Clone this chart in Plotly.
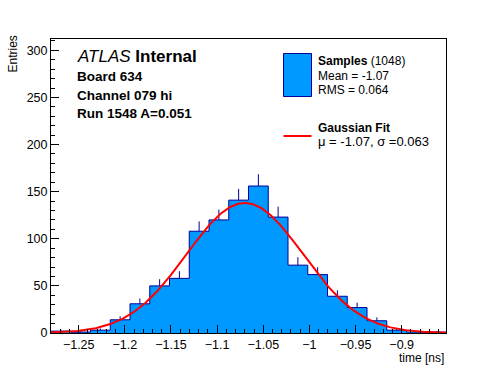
import numpy as np
import plotly.graph_objects as go

# ---- data ----
bin_lo = -1.28
bin_width = 0.0214
counts = [2, 1, 3, 14, 31, 50, 58, 108, 120, 141, 156, 123, 72, 62, 39, 27, 13, 3, 1, 1]
x_range = [-1.28, -0.852]
y_range = [0, 312]
fit_const = 138.0
fit_mu = -1.07
fit_sigma = 0.063

n = len(counts)
edges = [bin_lo + i * bin_width for i in range(n + 1)]
centers = [bin_lo + (i + 0.5) * bin_width for i in range(n)]
errs = [float(np.sqrt(c)) for c in counts]

FILL = "#0099ff"
EDGE = "#000099"
FONT = "Liberation Sans, Arial, sans-serif"

fig = go.Figure()

# histogram fill + outline (step)
fig.add_trace(go.Scatter(
    x=edges, y=counts + [counts[-1]], mode="lines", line_shape="hv",
    line=dict(color=EDGE, width=1), fill="tozeroy", fillcolor=FILL,
    hoverinfo="skip", showlegend=False))

# upper error bars
fig.add_trace(go.Scatter(
    x=centers, y=counts, mode="markers",
    marker=dict(size=1, color="rgba(0,0,0,0)"),
    error_y=dict(type="data", symmetric=False, array=errs,
                 arrayminus=[0] * n, width=0, thickness=1, color=EDGE),
    hoverinfo="skip", showlegend=False))

# gaussian fit
xf = np.linspace(x_range[0], x_range[1], 400)
yf = fit_const * np.exp(-0.5 * ((xf - fit_mu) / fit_sigma) ** 2)
fig.add_trace(go.Scatter(x=xf, y=yf, mode="lines",
                         line=dict(color="#ff0000", width=2),
                         hoverinfo="skip", showlegend=False))

L, R, T, B = 51, 50, 39, 39
W, H = 496, 372
PW, PH = W - L - R, H - T - B


def px(x):
    return (x - L) / PW


def py(y):
    return (H - B - y) / PH


ann = []


def text(x, y, s, size, xanchor="left", yanchor="middle", angle=0):
    ann.append(dict(x=px(x), y=py(y), xref="paper", yref="paper", text=s,
                    showarrow=False, xanchor=xanchor, yanchor=yanchor,
                    textangle=angle, font=dict(family=FONT, size=size, color="black")))


text(75, 57, "<i>ATLAS</i> <b>Internal</b>", 17)
text(75, 76, "<b>Board 634</b>", 13.5)
text(75, 95, "<b>Channel 079 hi</b>", 13.5)
text(75, 114, "<b>Run 1548 A=0.051</b>", 13.5)

text(316, 61, "<b>Samples</b> (1048)", 12)
text(316, 76, "Mean = -1.07", 12)
text(316, 90, "RMS = 0.064", 12)
text(316, 128, "<b>Gaussian Fit</b>", 12)
text(316, 141.5, "\u03bc = -1.07, \u03c3 =0.063", 13)

text(12, 34, "Entries", 12, xanchor="center", yanchor="top", angle=-90)
text(446, 357.5, "time [ns]", 12, xanchor="right")

shapes = [
    dict(type="rect", xref="paper", yref="paper", x0=px(283.5), x1=px(311.5),
         y0=py(96.5), y1=py(53.5), fillcolor=FILL, line=dict(color=EDGE, width=1)),
    dict(type="line", xref="paper", yref="paper", x0=px(283.5), x1=px(311.5),
         y0=py(136), y1=py(136), line=dict(color="#ff0000", width=2)),
]

fig.update_layout(
    width=W, height=H, margin=dict(l=L, r=R, t=T, b=B),
    paper_bgcolor="white", plot_bgcolor="white",
    font=dict(family=FONT, size=12, color="black"),
    annotations=ann, shapes=shapes, showlegend=False,
    xaxis=dict(range=x_range, dtick=0.05, tick0=0, ticks="inside", ticklen=8,
               tickcolor="black", showgrid=False, zeroline=False,
               showline=True, linecolor="black", linewidth=1, mirror=True,
               tickfont=dict(size=12.5),
               minor=dict(ticks="inside", ticklen=4, dtick=0.01, tick0=0,
                          tickcolor="black", showgrid=False)),
    yaxis=dict(range=y_range, dtick=50, tick0=0, ticks="inside", ticklen=8,
               tickcolor="black", showgrid=False, zeroline=False,
               showline=True, linecolor="black", linewidth=1, mirror=True,
               tickfont=dict(size=12.5),
               minor=dict(ticks="inside", ticklen=4, dtick=10, tick0=0,
                          tickcolor="black", showgrid=False)),
)

fig.write_html("out.html", config={"displayModeBar": False},
               post_script="document.body.style.margin='0';")
